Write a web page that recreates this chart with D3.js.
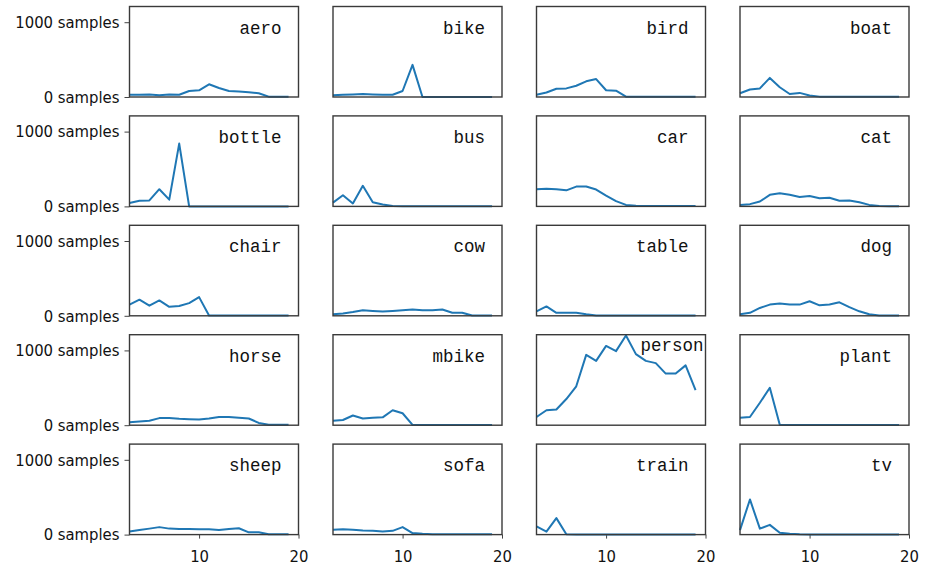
<!DOCTYPE html>
<html>
<head>
<meta charset="utf-8">
<script src="https://cdn.jsdelivr.net/npm/d3@7"></script>
<style>
    body { margin: 0; background: #fff; }
    svg { display: block; }
    .panel-label { font-family: "Liberation Mono", "DejaVu Sans Mono", monospace; font-size: 17.5px; fill: #111; }
    .axis text { font-family: "DejaVu Sans Condensed", "DejaVu Sans", sans-serif; font-stretch: condensed; font-size: 16.5px; fill: #111; }
    .axis path { display: none; }
    .axis line { stroke: #444; }
</style>
</head>
<body>
<div id="chart"></div>
<script>
// object size bins on the x axis
var xSteps = [3, 4, 5, 6, 7, 8, 9, 10, 11, 12, 13, 14, 15, 16, 17, 18, 19];

var categories = ["aero", "bike", "bird", "boat",
                  "bottle", "bus", "car", "cat",
                  "chair", "cow", "table", "dog",
                  "horse", "mbike", "person", "plant",
                  "sheep", "sofa", "train", "tv"];

// samples per bin
var aero   = [30, 30, 32, 25, 35, 30, 80, 90, 170, 120, 80, 75, 65, 50, 5, 5, 5];
var bike   = [25, 30, 35, 40, 35, 30, 30, 80, 430, 0, 0, 0, 0, 0, 0, 0, 0];
var bird   = [30, 60, 110, 115, 150, 210, 240, 90, 85, 5, 5, 5, 5, 5, 5, 5, 5];
var boat   = [50, 100, 115, 255, 130, 40, 55, 20, 5, 3, 3, 3, 3, 3, 3, 3, 3];
var bottle = [45, 75, 80, 230, 90, 840, 0, 0, 0, 0, 0, 0, 0, 0, 0, 0, 0];
var bus    = [50, 150, 40, 275, 55, 25, 5, 3, 3, 3, 3, 3, 3, 3, 3, 3, 3];
var car    = [230, 235, 230, 215, 265, 265, 225, 145, 70, 20, 10, 5, 5, 5, 5, 5, 5];
var cat    = [20, 30, 65, 155, 175, 155, 125, 140, 110, 115, 75, 80, 55, 20, 5, 3, 3];
var chair  = [150, 215, 135, 205, 120, 130, 170, 250, 5, 3, 3, 3, 3, 3, 3, 3, 3];
var cow    = [20, 30, 50, 75, 65, 57, 65, 75, 84, 75, 75, 84, 40, 40, 5, 5, 5];
var table  = [60, 125, 40, 40, 40, 20, 5, 3, 3, 3, 3, 3, 3, 3, 3, 3, 3];
var dog    = [20, 40, 105, 150, 165, 150, 150, 195, 140, 150, 180, 115, 60, 20, 5, 3, 3];
var horse  = [40, 50, 60, 95, 95, 85, 80, 75, 90, 110, 110, 100, 90, 30, 5, 5, 5];
var mbike  = [60, 70, 130, 90, 100, 105, 200, 160, 5, 3, 3, 3, 3, 3, 3, 3, 3];
var person = [110, 200, 210, 350, 520, 940, 860, 1060, 990, 1200, 950, 860, 830, 690, 690, 800, 470];
var plant  = [100, 110, 300, 500, 5, 3, 3, 3, 3, 3, 3, 3, 3, 3, 3, 3, 3];
var sheep  = [40, 60, 80, 100, 80, 75, 75, 70, 70, 60, 75, 85, 30, 30, 5, 5, 5];
var sofa   = [65, 70, 65, 55, 50, 40, 50, 100, 20, 10, 5, 5, 5, 5, 5, 5, 5];
var train  = [110, 40, 220, 5, 3, 3, 3, 3, 3, 3, 3, 3, 3, 3, 3, 3, 3];
var tv     = [60, 470, 80, 130, 25, 10, 5, 3, 3, 3, 3, 3, 3, 3, 3, 3, 3];

var seriesValues = [aero, bike, bird, boat, bottle, bus, car, cat, chair, cow,
                    table, dog, horse, mbike, person, plant, sheep, sofa, train, tv];

var yTickValues = [0, 1000];
var yTickLabels = ["0 samples", "1000 samples"];
var xTickValues = [10, 20];
var xTickLabels = ["10", "20"];

// layout of the 5x4 grid
var W = 925, H = 568;
var nCols = 4, nRows = 5;
var gridLeft = 129.5, gridTop = 6.5;
var colStep = 203.5, rowStep = 109.4;
var panelW = 169, panelH = 90.5;
var lineColor = "#1f77b4";

// person label is pushed up and right (its line reaches the top)
var labelShift = { person: [15, -11] };

var svg = d3.select("#chart").append("svg")
    .attr("width", W)
    .attr("height", H);

var x = d3.scaleLinear().domain([3, 20]).range([0, panelW]);
var y = d3.scaleLinear().domain([0, 1210]).range([panelH, 0]);

var line = d3.line()
    .x(function(d, i){ return x(xSteps[i]); })
    .y(function(d){ return y(d); });

categories.forEach(function(name, k){
    var col = k % nCols;
    var row = Math.floor(k / nCols);
    var g = svg.append("g")
        .attr("transform", "translate(" + (gridLeft + col * colStep) + "," + (gridTop + row * rowStep) + ")");

    //y axis only on the first column
    if(col == 0)
    {
        g.append("g")
            .attr("class", "axis")
            .call(d3.axisLeft(y)
                .tickValues(yTickValues)
                .tickSize(5)
                .tickPadding(5)
                .tickFormat(function(d, i){ return yTickLabels[i]; }));
    }

    //x axis only on the bottom row
    if(row == nRows - 1)
    {
        g.append("g")
            .attr("class", "axis")
            .attr("transform", "translate(0," + panelH + ")")
            .call(d3.axisBottom(x)
                .tickValues(xTickValues)
                .tickSize(4)
                .tickPadding(12)
                .tickFormat(function(d, i){ return xTickLabels[i]; }));
    }

    g.append("path")
        .datum(seriesValues[k])
        .attr("fill", "none")
        .attr("stroke", lineColor)
        .attr("stroke-width", 2)
        .attr("stroke-linejoin", "round")
        .attr("d", line);

    g.append("rect")
        .attr("width", panelW)
        .attr("height", panelH)
        .attr("fill", "none")
        .attr("stroke", "#3a3a3a")
        .attr("stroke-width", 1.4);

    var shift = labelShift[name] || [0, 0];
    g.append("text")
        .attr("class", "panel-label")
        .attr("x", panelW - 17 + shift[0])
        .attr("y", 27 + shift[1])
        .attr("text-anchor", "end")
        .text(name);
});
</script>
</body>
</html>
